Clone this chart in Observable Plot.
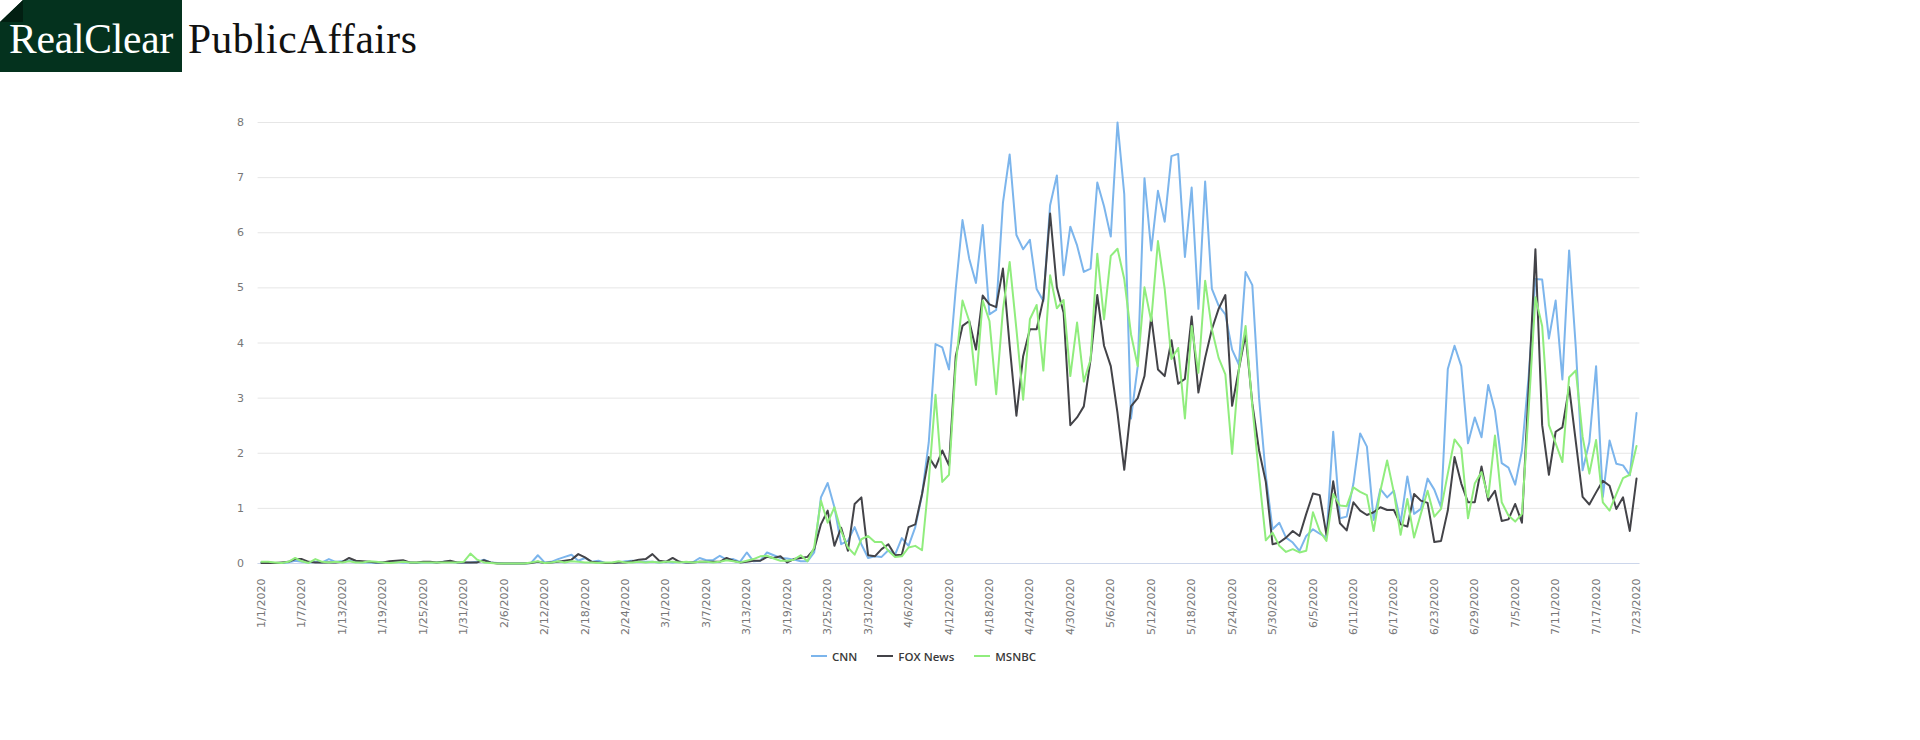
<!DOCTYPE html>
<html><head><meta charset="utf-8">
<script src="https://cdn.jsdelivr.net/npm/d3@7"></script>
<script src="https://cdn.jsdelivr.net/npm/@observablehq/plot@0.6"></script>
<style>
html,body{margin:0;padding:0;background:#fff;}
body{width:1920px;height:740px;overflow:hidden;position:relative;font-family:"DejaVu Sans",sans-serif;}
#header{position:relative;height:71px;}
#box{position:absolute;left:0;top:0;width:182px;height:72px;background:#04321e;
  clip-path:polygon(23px 0,100% 0,100% 100%,0 100%,0 22px);}
#fold{position:absolute;left:0;top:0;width:23px;height:22px;background:#021f12;
  clip-path:polygon(0 100%,100% 0,100% 100%);}
#rc{position:absolute;left:9px;top:15px;font-family:"Liberation Serif",serif;font-size:41.5px;line-height:48px;color:#fff;letter-spacing:-0.2px;}
#pa{position:absolute;left:188px;top:15px;font-family:"Liberation Serif",serif;font-size:41.5px;line-height:48px;color:#111;letter-spacing:0.5px;}
#chart svg{display:block;}
#legend{position:absolute;top:645px;left:811px;height:22px;display:flex;align-items:center;
  font-family:"Open Sans",sans-serif;font-size:11.5px;font-weight:600;color:#3a3a3a;}
.item{display:flex;align-items:center;margin-right:20px;}
.sw{width:16px;height:2px;margin-right:5px;}
</style></head>
<body>
<div id="header">
  <div id="box"></div><div id="fold"></div>
  <div id="rc">RealClear</div>
  <div id="pa">PublicAffairs</div>
</div>
<div id="chart"></div>
<div id="legend"></div>
<script>
const seriesNames = ["CNN", "FOX News", "MSNBC"];
const seriesColors = ["#7cb5ec", "#434348", "#90ed7d"];
const startDate = "1/1/2020";
const tickLabels = ["1/1/2020","1/7/2020","1/13/2020","1/19/2020","1/25/2020","1/31/2020","2/6/2020","2/12/2020","2/18/2020","2/24/2020","3/1/2020","3/7/2020","3/13/2020","3/19/2020","3/25/2020","3/31/2020","4/6/2020","4/12/2020","4/18/2020","4/24/2020","4/30/2020","5/6/2020","5/12/2020","5/18/2020","5/24/2020","5/30/2020","6/5/2020","6/11/2020","6/17/2020","6/23/2020","6/29/2020","7/5/2020","7/11/2020","7/17/2020","7/23/2020"];
const yTicks = [0,1,2,3,4,5,6,7,8];

const cnn = [0.02,0.02,0.01,0.01,0.02,0.05,0.03,0.02,0.03,0.02,
 0.08,0.03,0.04,0.05,0.03,0.02,0.02,0.01,0.02,0.02,
 0.03,0.02,0.02,0.01,0.02,0.02,0.02,0.03,0.03,0.02,
 0.02,0.02,0.03,0.07,0.02,0.01,0,0,0,0,
 0.01,0.15,0.02,0.03,0.08,0.12,0.16,0.05,0.1,0.03,
 0.05,0.01,0.01,0.02,0.04,0.05,0.03,0.03,0.03,0.02,
 0.03,0.02,0.03,0.02,0.02,0.1,0.06,0.06,0.14,0.07,
 0.08,0.03,0.2,0.04,0.05,0.2,0.15,0.1,
 0.09,0.07,0.04,0.04,0.2,1.2,1.46,1.02,0.35,0.41,
 0.66,0.35,0.1,0.13,0.12,0.24,0.16,0.46,0.32,0.66,
 1.25,2.2,3.98,3.92,3.52,4.98,6.23,5.53,5.09,6.14,
 4.52,4.6,6.54,7.42,5.96,5.7,5.87,4.98,4.76,6.5,
 7.04,5.23,6.11,5.77,5.29,5.35,6.91,6.48,5.93,8.0,
 6.7,2.63,3.58,6.99,5.68,6.76,6.2,7.39,7.43,5.56,
 6.82,4.62,6.93,4.98,4.68,4.52,3.88,3.61,5.29,5.05,
 3.0,1.6,0.62,0.74,0.47,0.38,0.23,0.5,0.62,0.54,
 0.47,2.39,0.82,0.85,1.45,2.36,2.12,0.79,1.35,1.2,
 1.32,0.74,1.58,0.9,0.99,1.54,1.34,1.02,3.53,3.95,
 3.58,2.18,2.65,2.29,3.24,2.77,1.82,1.74,1.43,2.05,
 3.4,5.16,5.15,4.08,4.77,3.34,5.68,3.9,1.69,2.2,
 3.58,1.21,2.23,1.81,1.78,1.6,2.73];

const fox = [0.01,0.01,0.01,0.02,0.03,0.08,0.08,0.03,0.02,0.02,
 0.02,0.02,0.03,0.1,0.05,0.04,0.03,0.02,0.02,0.04,
 0.05,0.06,0.02,0.02,0.03,0.03,0.02,0.03,0.05,0.02,
 0.02,0.02,0.02,0.06,0.02,0,0,0,0,0,
 0.01,0.03,0.01,0.02,0.03,0.05,0.07,0.17,0.11,0.03,
 0.02,0.01,0.01,0.02,0.02,0.04,0.07,0.08,0.17,0.05,
 0.03,0.1,0.03,0.02,0.02,0.03,0.03,0.03,0.03,0.1,
 0.05,0.02,0.03,0.05,0.05,0.12,0.1,0.13,
 0.02,0.08,0.1,0.12,0.26,0.71,0.96,0.32,0.65,0.23,
 1.08,1.2,0.15,0.13,0.26,0.35,0.15,0.16,0.66,0.71,
 1.26,1.93,1.74,2.05,1.78,3.76,4.31,4.4,3.88,4.86,
 4.7,4.65,5.35,3.95,2.68,3.76,4.25,4.25,4.8,6.35,
 5.01,4.55,2.51,2.65,2.85,3.7,4.87,3.95,3.58,2.73,
 1.7,2.85,3.0,3.4,4.48,3.52,3.4,4.05,3.26,3.35,
 4.48,3.1,3.73,4.25,4.62,4.87,2.86,3.52,4.16,2.9,
 2.05,1.48,0.35,0.38,0.47,0.59,0.5,0.9,1.27,1.24,
 0.52,1.49,0.73,0.6,1.11,0.96,0.88,0.93,1.02,0.97,
 0.97,0.71,0.67,1.26,1.14,1.1,0.39,0.41,0.96,1.93,
 1.45,1.11,1.11,1.76,1.14,1.32,0.77,0.8,1.08,0.74,
 3.2,5.7,2.51,1.61,2.39,2.47,3.2,2.2,1.21,1.07,
 1.29,1.5,1.41,0.99,1.2,0.59,1.54];

const msnbc = [0.03,0.03,0.02,0.01,0.03,0.1,0.04,0.01,0.08,0.03,
 0.02,0.03,0.02,0.04,0.02,0.02,0.04,0.03,0.02,0.01,
 0.02,0.03,0.02,0.02,0.02,0.02,0.02,0.02,0.02,0.02,
 0.03,0.18,0.07,0.02,0.01,0,0,0,0,0,
 0.02,0.04,0.01,0.02,0.04,0.02,0.04,0.03,0.02,0.02,
 0.01,0.02,0.02,0.04,0.02,0.02,0.03,0.02,0.03,0.02,
 0.03,0.03,0.02,0.03,0.02,0.03,0.03,0.02,0.03,0.06,
 0.04,0.02,0.05,0.08,0.13,0.14,0.09,0.05,
 0.05,0.07,0.15,0.04,0.29,1.14,0.74,1.02,0.59,0.29,
 0.16,0.44,0.5,0.39,0.39,0.23,0.12,0.13,0.29,0.32,
 0.24,1.5,3.06,1.48,1.61,3.6,4.77,4.4,3.24,4.77,
 4.4,3.07,4.6,5.47,4.25,2.97,4.43,4.69,3.5,5.23,
 4.63,4.78,3.4,4.37,3.3,3.7,5.62,4.43,5.58,5.71,
 5.16,4.16,3.58,5.01,4.4,5.85,4.98,3.71,3.91,2.63,
 4.31,3.46,5.13,4.25,3.73,3.43,1.99,3.52,4.31,2.85,
 1.6,0.42,0.56,0.32,0.21,0.26,0.2,0.23,0.93,0.59,
 0.41,1.26,1.05,1.04,1.38,1.3,1.24,0.59,1.32,1.87,
 1.29,0.52,1.17,0.47,0.9,1.32,0.85,0.99,1.63,2.25,
 2.09,0.82,1.45,1.66,1.2,2.32,1.11,0.87,0.76,0.9,
 2.8,4.83,4.31,2.51,2.18,1.84,3.38,3.5,2.3,1.63,
 2.24,1.11,0.96,1.26,1.55,1.61,2.13];

const seriesValues = [cnn, fox, msnbc];

const parse = d3.utcParse("%m/%d/%Y");
const start = parse(startDate);
const tickDates = tickLabels.map(parse);
const labelByTime = new Map(tickDates.map((d, i) => [+d, tickLabels[i]]));
const rows = seriesNames.map((name, k) =>
  seriesValues[k].map((v, i) => ({date: d3.utcDay.offset(start, i), value: v, name})));
const end = d3.utcDay.offset(start, cnn.length - 1);

const chart = Plot.plot({
  width: 1920,
  height: 569,
  marginTop: 51,
  marginBottom: 77,
  marginLeft: 257.6,
  marginRight: 280.6,
  style: {fontFamily: "DejaVu Sans, sans-serif", fontSize: "11px", color: "#777", background: "transparent", overflow: "visible"},
  x: {type: "utc", domain: [d3.utcHour.offset(start, -12), d3.utcHour.offset(end, 12)]},
  y: {domain: [0, 8]},
  marks: [
    Plot.gridY(yTicks, {stroke: "#e6e6e6", strokeOpacity: 1}),
    Plot.ruleY([0], {stroke: "#ccd6eb"}),
    Plot.axisY(yTicks, {tickSize: 0, tickPadding: 14, fill: "#777", label: null, tickFormat: d => String(d)}),
    Plot.axisX(tickDates, {tickSize: 0, tickRotate: -90, tickPadding: 15, fill: "#777", label: null,
      tickFormat: d => labelByTime.get(+d)}),
    ...rows.map((r, k) => Plot.line(r, {x: "date", y: "value", stroke: seriesColors[k], strokeWidth: 2}))
  ]
});
document.getElementById("chart").appendChild(chart);

const legend = document.getElementById("legend");
seriesNames.forEach((name, k) => {
  const it = document.createElement("div");
  it.className = "item";
  const sw = document.createElement("span");
  sw.className = "sw";
  sw.style.background = seriesColors[k];
  const t = document.createElement("span");
  t.textContent = name;
  it.appendChild(sw); it.appendChild(t);
  legend.appendChild(it);
});
</script>
</body></html>
